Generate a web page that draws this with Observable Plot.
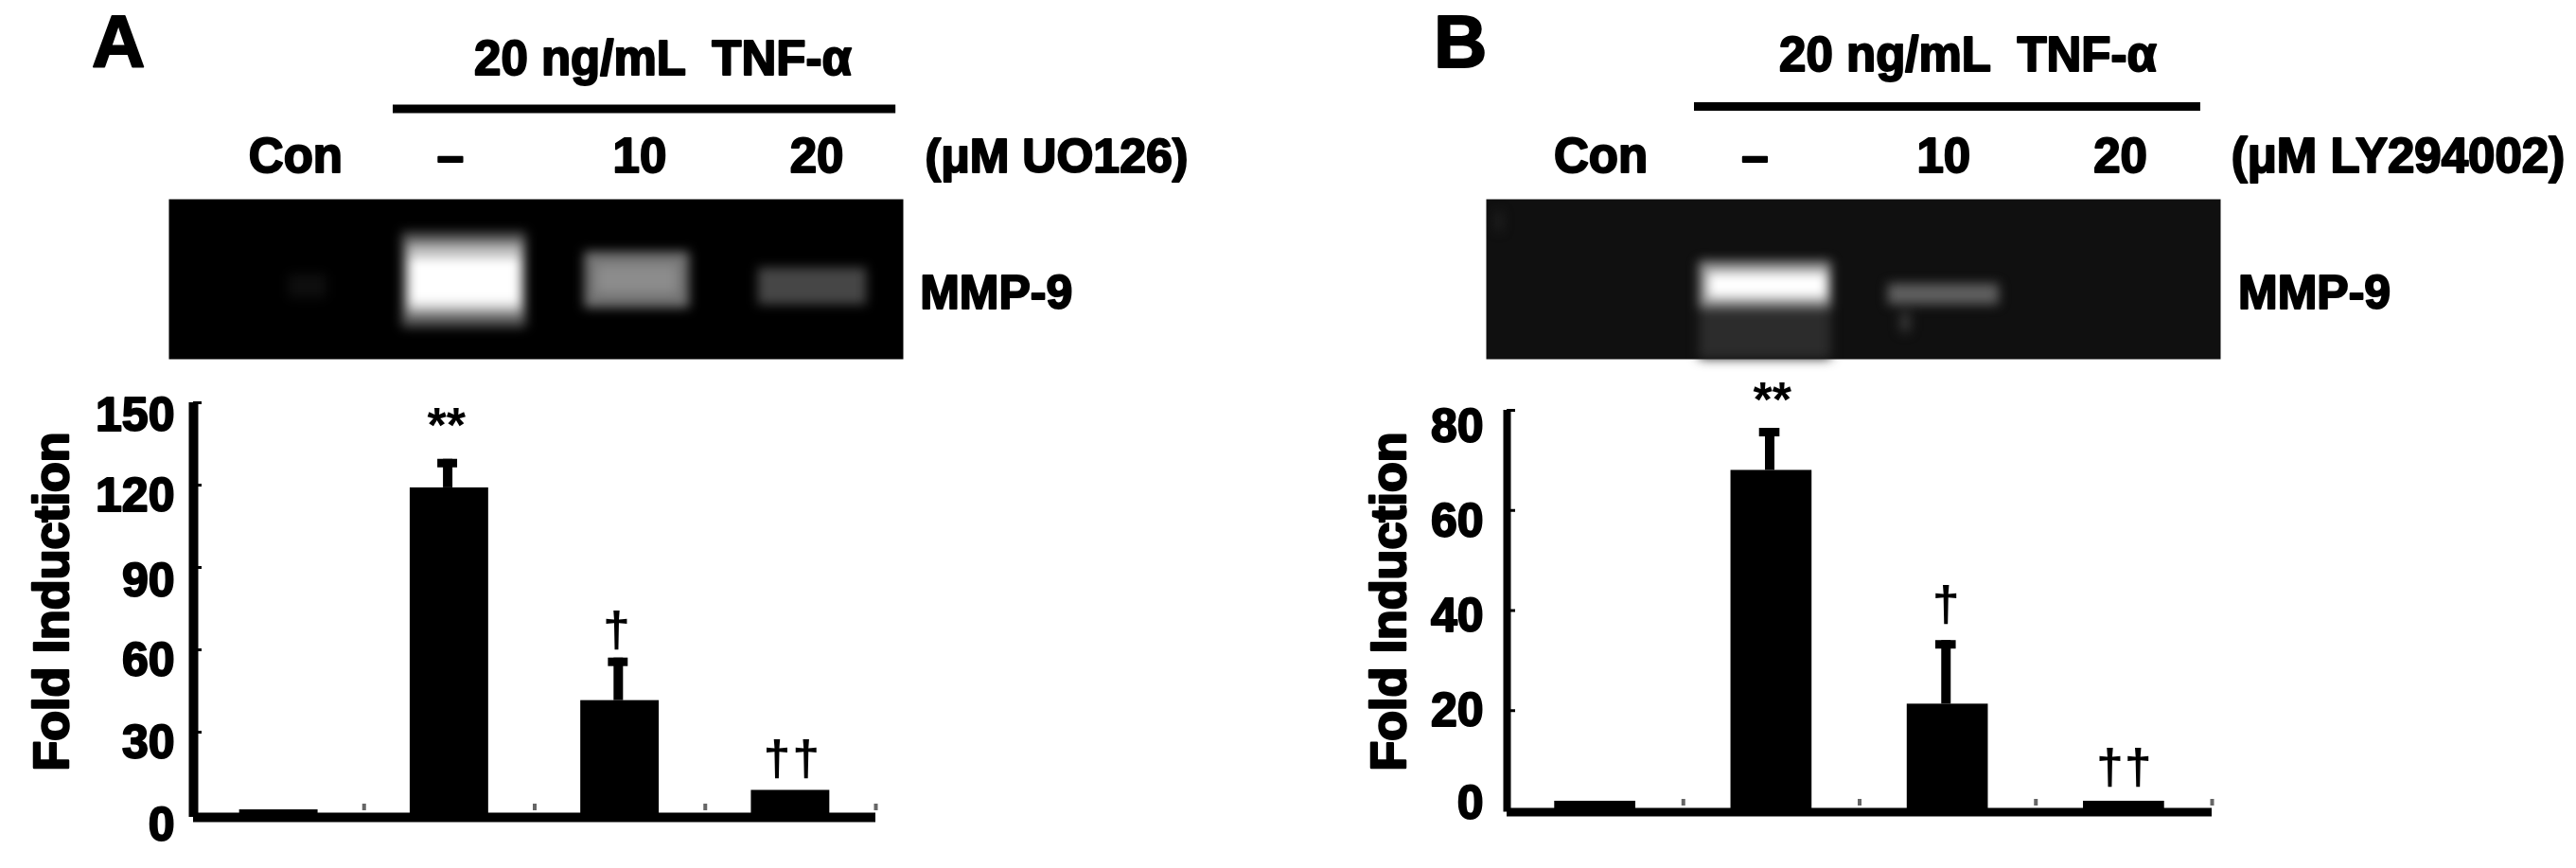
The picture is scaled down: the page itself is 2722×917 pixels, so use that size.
<!DOCTYPE html>
<html><head><meta charset="utf-8">
<script src="https://cdn.jsdelivr.net/npm/d3@7"></script>
<script src="https://cdn.jsdelivr.net/npm/@observablehq/plot@0.6"></script>
<style>html,body{margin:0;background:#fff;overflow:hidden}#root{position:relative;width:2722px;height:917px;filter:blur(0.7px)}</style>
</head><body><div id="root"></div>
<script>
const groups = ["Con", "–", "10", "20"];
// Panel A values
const valuesA = [1.7, 119, 41.5, 8.8];
const errorTopA = [null, 129.4, 57, null];
const ticksA = [0, 30, 60, 90, 120, 150];
const tickLabelAtA = [-4, 26, 56, 85, 116, 145.5];
// Panel B values
const valuesB = [1.9, 68, 21.3, 1.9];
const errorTopB = [null, 76.4, 34, null];
const ticksB = [0, 20, 40, 60, 80];
const tickLabelAtB = [1.5, 20, 38.9, 57.7, 76.6];
// Significance marks
const marksA = ["**", "†", "†", "†"];
const marksAGroup = [1.483, 2.48, 3.42, 3.59];
const marksAValue = [141.5, 67, 20, 20];
const marksB = ["**", "†", "†", "†"];
const marksBGroup = [1.505, 2.49, 3.42, 3.58];
const marksBValue = [82, 41, 8.5, 8.5];
// Header labels: lane offsets
const laneLabelAtA = [0, 0.90, 2.0, 3.03];
const laneLabelAtB = [0, 0.89, 1.98, 3.0];
// Gel bands: lane units / migration units (0 top, 100 bottom) / gray level
const gelA = {
  left:   [-0.04, 0.62, 0.65, 0.66, 1.68, 1.75, 2.69],
  right:  [0.18, 1.34, 1.32, 1.31, 2.29, 2.22, 3.32],
  top:    [47, 21, 28, 37, 33, 41, 43],
  bottom: [62, 80, 72, 66, 68, 59, 66],
  gray:   [14, 90, 190, 255, 115, 140, 70]
};
const gelB = {
  left:   [0.57, 0.57, 0.62, 1.66, 1.73, -0.6],
  right:  [1.33, 1.33, 1.31, 2.30, 1.79, -0.57],
  top:    [65, 39, 46, 53, 71, 8],
  bottom: [100, 68, 62, 66, 83, 20],
  gray:   [44, 150, 255, 95, 55, 40]
};
const FONT = "Liberation Sans";
const root = document.getElementById("root");
const bold = {fontFamily: FONT, fontWeight: "bold", fill: "black", stroke: "black", strokeWidth: 2};

function gelPlot(o) {
  const bands = o.gel.gray.map((g, i) => ({l: o.gel.left[i], r: o.gel.right[i], t: o.gel.top[i], b: o.gel.bottom[i], c: `rgb(${g},${g},${g})`}));
  const labels = groups.map((g, i) => ({g, x: o.laneAt[i]}));
  root.append(Plot.plot({
    width: 1361, height: 400, marginLeft: o.gelLeft, marginRight: 1361 - o.gelRight, marginTop: 210, marginBottom: 21,
    style: {position: "absolute", left: o.left + "px", top: "0px", background: "transparent", overflow: "visible"},
    x: {domain: o.xDomain, axis: null},
    y: {domain: [100, 0], axis: null},
    marks: [
      Plot.frame({fill: o.gelFill, stroke: null}),
      Plot.rect(bands, {x1: "l", x2: "r", y1: "t", y2: "b", fill: "c", imageFilter: "blur(6px)"}),
      Plot.text(labels, {x: "x", y: () => -26.6, text: "g", fontSize: 51, ...bold}),
      Plot.text([o.title], {x: o.titleX, y: o.titleY, fontSize: 51, ...bold}),
      Plot.ruleY([o.barY], {x1: o.barX[0], x2: o.barX[1], strokeWidth: 9, stroke: "black"}),
      Plot.text([o.unit], {x: o.unitX, y: -26.6, textAnchor: "start", fontSize: o.unitSize, ...bold}),
      Plot.text(["MMP-9"], {x: o.mmpX, y: 59, textAnchor: "start", fontSize: 50, ...bold}),
      Plot.text([o.letter], {x: o.letterX, y: -97.6, fontSize: 78, ...bold})
    ]
  }));
}

function barPlot(o) {
  const rows = groups.map((g, i) => ({g, i, v: o.values[i], e: o.err[i]}));
  const errs = rows.filter(d => d.e != null);
  const lab = o.ticks.map((t, i) => ({t, at: o.labelAt[i]}));
  const ann = o.marks.map((m, i) => ({m, x: o.markX[i], y: o.markY[i]}));
  root.append(Plot.plot({
    width: 1361, height: 517, marginLeft: o.x0, marginRight: 1361 - o.x1, marginTop: o.yTop, marginBottom: o.yBottom,
    style: {position: "absolute", left: o.left + "px", top: "400px", background: "transparent", overflow: "visible"},
    x: {domain: [0, 4], axis: null},
    y: {domain: [0, o.ticks[o.ticks.length - 1]], axis: null},
    marks: [
      Plot.axisX([1, 2, 3, 4], {anchor: "bottom", tickSize: -7, tickFormat: () => "", stroke: "#666", strokeWidth: 4, label: null, dy: -o.yNub}),
      Plot.axisY(o.ticks, {anchor: "left", tickSize: -9, tickFormat: () => "", strokeWidth: 3, label: null}),
      Plot.rectY(rows, {x1: d => d.i + 0.5 - 0.23, x2: d => d.i + 0.5 + 0.23, y: "v", fill: "black", inset: 0}),
      Plot.ruleX(errs, {x: d => d.i + 0.49, y1: "v", y2: "e", strokeWidth: 10, stroke: "black"}),
      Plot.rectY(errs, {x1: d => d.i + 0.49 - 0.058, x2: d => d.i + 0.49 + 0.058, y1: "e", y2: d => d.e - o.capH, fill: "black"}),
      Plot.ruleX([0], {y1: o.baseV, y2: o.ticks[o.ticks.length - 1], strokeWidth: o.axisW, stroke: "black"}),
      Plot.ruleY([o.baseV], {strokeWidth: o.baseW, stroke: "black"}),
      Plot.text(lab, {x: 0, y: "at", text: d => String(d.t), textAnchor: "end", dx: -o.labelGap, fontSize: 50, ...bold}),
      Plot.text(ann, {x: "x", y: "y", text: "m", fontSize: 52, fontFamily: FONT, fontWeight: "bold", fill: "black"}),
      Plot.text(["Fold Induction"], {x: o.foldX, y: o.foldY, rotate: -90, fontSize: 52, ...bold, strokeWidth: 2.5, letterSpacing: "-1px"})
    ]
  }));
}

gelPlot({left: 0, gel: gelA, laneAt: laneLabelAtA, gelLeft: 178, gelRight: 954, gelFill: "black",
  xDomain: [-0.737, 3.533], title: "20 ng/mL  TNF-α", titleX: 2.135, titleY: -87.6, barY: -56.5, barX: [0.567, 3.49],
  unit: "(μM UO126)", unitSize: 50, unitX: 3.66, mmpX: 3.63, letter: "A", letterX: -1.03});
barPlot({left: 0, values: valuesA, err: errorTopA, ticks: ticksA, labelAt: tickLabelAtA, marks: marksA, markX: marksAGroup, markY: marksAValue,
  x0: 204, x1: 925, yTop: 25, yBottom: 57, yNub: 4, capH: 3.1, baseV: -1, baseW: 10, axisW: 10, labelGap: 20, foldX: -0.83, foldY: 77.6});

gelPlot({left: 1361, gel: gelB, laneAt: laneLabelAtB, gelLeft: 209, gelRight: 985, gelFill: "#101010",
  xDomain: [-0.661, 3.579], title: "20 ng/mL  TNF-α", titleX: 2.12, titleY: -90, barY: -58, barX: [0.541, 3.464],
  unit: "(μM LY294002)", unitSize: 51, unitX: 3.64, mmpX: 3.68, letter: "B", letterX: -0.81});
barPlot({left: 1361, values: valuesB, err: errorTopB, ticks: ticksB, labelAt: tickLabelAtB, marks: marksB, markX: marksBGroup, markY: marksBValue,
  x0: 231, x1: 976, yTop: 33, yBottom: 61, yNub: 5, capH: 1.7, baseV: -0.3, baseW: 9, axisW: 8, labelGap: 25, foldX: -0.667, foldY: 41.8});
</script></body></html>
